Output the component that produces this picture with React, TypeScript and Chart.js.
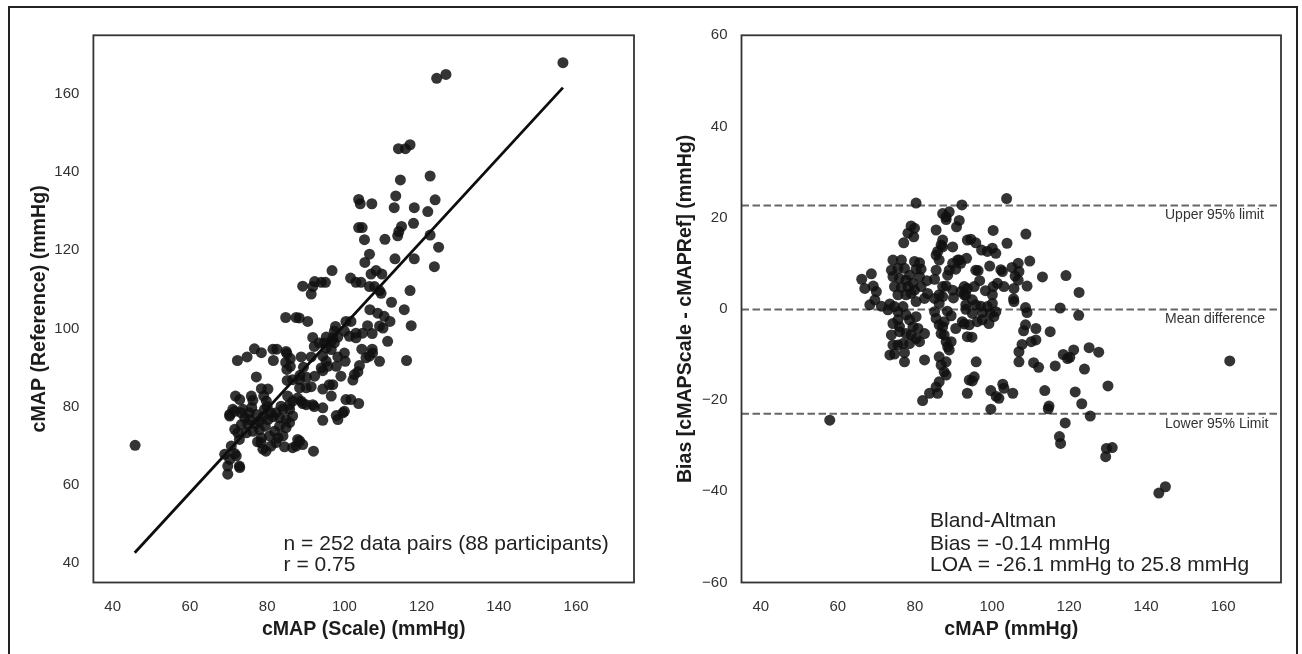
import React, { useEffect, useRef } from 'react';
import { Chart, registerables } from 'chart.js';

Chart.register(...registerables);

// ---------- data: left panel (correlation) ----------
const scaleValues = [
  156.6,123.9,126.3,114.0,115.8,117.0,114.5,122.2,113.3,103.7,
  104.1,107.1,112.9,118.1,123.5,121.6,117.9,103.7,104.6,114.8,
  114.1,113.8,105.2,110.5,124.4,122.2,106.5,105.3,113.1,118.1,
  123.3,96.8,108.2,106.9,109.7,101.6,103.0,104.3,89.2,91.8,
  92.3,94.0,95.1,91.4,106.5,107.8,109.1,109.5,117.0,112.2,
  115.5,106.6,108.6,110.3,111.8,117.3,84.8,87.5,88.3,90.5,
  97.7,100.4,101.7,106.0,107.2,91.8,95.3,97.4,98.3,101.3,
  103.0,104.7,109.1,110.0,76.7,78.5,81.5,82.5,72.3,74.8,
  85.1,86.0,88.8,91.4,94.4,96.6,98.3,100.2,104.5,107.2,
  109.1,111.2,116.1,92.3,99.1,102.6,81.6,84.8,86.0,85.1,
  77.2,85.2,86.6,88.4,90.1,91.4,78.5,80.2,71.8,72.9,
  75.9,76.3,79.1,85.3,88.8,90.1,92.2,71.1,70.3,97.4,
  97.0,100.0,103.0,94.8,96.6,92.2,93.5,95.3,95.3,94.0,
  95.7,94.4,100.0,107.3,106.5,105.6,103.9,103.5,102.2,88.4,
  94.4,96.1,97.0,96.6,94.4,89.2,100.4,101.7,103.7,100.0,
  97.9,98.3,94.4,88.4,89.2,92.0,97.9,87.9,86.6,91.8,
  99.6,84.9,79.8,
  70.3,71.6,73.3,74.2,75.4,77.2,78.0,78.9,80.2,81.5,
  83.2,84.9,85.8,86.6,73.7,75.4,79.3,81.0,84.1,85.8,
  83.2,81.9,80.6,78.4,78.9,79.7,81.0,82.3,84.1,87.5,
  71.6,73.3,74.6,72.8,70.7,69.0,70.3,72.0,72.8,69.8,
  69.8,84.9,85.8,83.6,82.3,72.4,76.3,78.0,78.5,82.8,
  84.5,86.6,87.9,71.6,72.9,77.0,79.5,76.0,80.0,77.5,
  75.0,
  45.8,88.5,90.2,89.4,
];
const referenceValues = [
  168.0,164.0,165.0,146.0,146.0,147.0,138.0,139.0,133.9,133.0,
  131.9,131.9,130.9,130.9,132.9,129.9,126.9,125.8,125.8,126.1,
  124.8,123.7,122.7,122.8,120.8,123.9,119.0,116.9,117.8,117.8,
  115.8,114.8,114.8,113.9,113.9,112.9,111.8,111.8,110.8,110.7,
  112.0,111.8,111.8,108.8,110.7,110.7,109.7,109.0,109.7,106.7,
  104.8,104.8,103.9,103.1,101.8,100.7,102.8,102.8,102.7,101.8,
  100.5,101.8,101.8,100.7,98.7,97.7,97.8,96.3,97.8,98.0,
  98.8,98.8,100.6,100.1,94.8,93.8,94.7,94.7,91.8,92.7,
  93.6,92.3,92.7,92.7,92.9,94.6,92.7,91.6,94.7,94.7,
  91.6,96.7,91.8,87.8,87.8,88.2,91.8,91.3,90.3,89.5,
  87.6,86.7,86.9,84.8,84.8,85.1,84.6,84.5,82.7,81.8,
  82.7,81.6,82.7,82.7,81.4,80.5,80.0,79.3,77.6,99.3,
  97.6,99.3,97.6,96.3,96.7,95.4,96.3,95.0,91.6,89.9,
  90.3,89.2,93.7,93.7,92.9,92.5,90.5,88.9,86.8,86.9,
  84.5,85.6,85.6,82.7,79.7,80.8,81.8,81.8,80.8,78.8,
  77.7,76.7,76.5,71.2,70.3,68.6,90.3,82.2,81.4,80.5,
  78.4,94.1,81.4,
  78.0,78.8,78.4,77.1,76.7,78.0,76.3,77.4,76.7,77.4,
  77.1,76.7,75.9,77.6,79.3,78.4,79.3,78.4,79.3,79.3,
  75.0,73.7,72.5,70.8,69.1,68.6,69.9,70.8,72.5,69.9,
  74.2,75.4,73.3,71.6,69.9,67.8,66.5,67.4,64.8,64.8,
  62.7,74.6,80.5,80.1,78.4,73.3,73.7,74.1,72.0,72.0,
  69.7,69.5,71.6,68.0,64.4,75.5,75.0,79.8,80.0,71.0,
  75.5,
  70.1,88.0,87.5,90.1,
];
const fitLineX = [45.7, 156.6];
const fitLineY = [42.6, 161.6];

// ---------- data: right panel (Bland-Altman) ----------
const baMean = [
  57.9,161.7,143.3,145.0,129.7,131.2,129.5,117.5,117.8,119.0,
  125.5,123.3,121.6,130.1,113.7,114.6,114.8,124.0,121.2,125.2,
  127.7,118.5,119.6,120.2,116.4,122.5,117.7,122.6,119.2,113.1,
  108.8,103.8,80.3,92.2,87.2,88.9,88.1,91.5,90.8,79.0,
  79.9,78.2,79.7,77.1,85.5,87.2,86.8,85.5,85.9,89.8,
  93.6,100.3,94.5,95.8,97.3,98.8,100.1,101.0,103.9,93.4,
  91.5,95.8,99.4,102.7,105.2,106.8,109.8,107.0,106.8,96.8,
  95.4,92.8,91.9,93.2,94.9,93.2,95.8,97.1,98.8,100.1,
  100.1,100.3,101.4,103.1,105.7,109.1,105.7,108.7,109.1,94.9,
  97.5,99.6,101.0,92.3,94.1,96.2,97.5,99.2,100.5,94.8,
  108.7,108.2,111.4,115.1,110.2,111.4,107.8,107.0,107.0,110.8,
  112.1,95.9,95.4,94.9,93.6,99.7,101.1,101.8,103.1,105.4,
  99.7,102.8,74.3,76.5,79.9,81.2,73.9,75.6,77.3,80.3,
  81.6,74.3,78.6,81.2,76.0,77.7,79.5,74.7,76.5,78.2,
  79.9,81.6,75.6,77.7,79.0,66.2,68.7,67.0,69.2,70.0,
  68.3,69.6,71.3,73.5,73.0,74.7,76.9,80.3,82.5,83.3,
  85.1,83.1,85.1,86.3,88.1,89.8,87.2,88.5,90.6,91.9,
  88.9,89.8,91.1,92.8,93.6,75.6,77.7,80.3,75.6,74.3,
  78.6,76.0,79.5,77.7,80.8,82.5,73.9,74.3,75.6,76.9,
  78.6,79.0,81.2,74.7,73.5,77.3,77.3,82.5,85.1,85.5,
  86.3,87.2,86.8,87.6,88.1,88.5,88.9,89.4,86.3,86.8,
  87.6,88.1,86.3,85.5,85.9,83.8,82.0,90.6,92.8,93.6,
  94.1,102.3,106.0,105.6,93.2,90.0,88.4,89.4,98.3,96.4,
  88.1,87.6,86.3,87.2,85.5,86.3,87.2,88.1,80.3,76.0,
];
const baDifference = [
  -24.4,-11.4,-40.4,-39.0,-30.6,-30.4,-32.4,-28.0,-29.5,-25.0,
  -23.5,-20.8,-18.2,-16.9,-17.9,-21.9,-21.3,-13.2,-9.0,-8.5,
  -9.5,-10.0,-10.9,-10.6,-12.5,-1.4,0.2,3.6,7.3,7.0,
  16.4,24.2,23.2,22.8,20.9,21.3,19.6,19.4,18.0,18.2,
  17.7,16.6,15.8,14.5,17.3,15.1,14.0,11.8,12.6,13.6,
  15.1,17.2,15.3,14.5,12.9,12.6,13.3,12.2,14.4,11.1,
  10.7,8.5,9.4,8.2,9.1,10.0,10.5,8.2,6.3,6.2,
  4.9,4.9,3.8,3.1,2.0,0.9,0.9,0.6,0.5,1.2,
  3.1,4.9,5.6,4.9,4.5,5.0,1.6,0.3,-0.8,-1.0,
  -0.8,-1.0,-0.6,-2.8,-3.5,-2.8,-2.4,-3.2,-1.7,-6.2,
  -3.5,-4.8,-4.3,-5.0,-7.2,-6.8,-7.8,-9.4,-11.6,-11.8,
  -12.8,-11.6,-14.9,-15.8,-18.5,-17.9,-19.2,-19.6,-17.4,-18.5,
  -22.0,-16.5,10.7,10.7,10.4,10.1,8.5,8.9,8.9,8.7,
  8.7,7.1,7.4,7.1,6.7,6.3,5.6,4.9,4.7,4.9,
  4.1,4.9,3.1,3.1,3.4,6.5,7.7,4.5,5.0,3.8,
  0.9,2.0,0.6,1.1,-0.2,0.5,0.5,1.6,2.3,3.4,
  2.3,6.2,6.5,3.1,5.0,4.1,4.9,7.4,8.7,10.0,
  8.5,10.0,10.7,3.1,4.5,-0.6,-1.3,-1.7,-2.4,-3.2,
  -2.4,-3.9,-3.9,-5.4,-4.3,-5.4,-5.7,-7.9,-7.9,-7.6,
  -7.6,-5.7,-7.2,-9.9,-10.1,-9.6,-11.6,-11.2,-0.6,-2.1,
  -3.5,-3.9,-5.4,-5.7,-7.2,-8.3,-9.0,-7.2,-10.5,-12.3,
  -13.8,-14.5,-16.0,-17.1,-18.5,-18.5,-20.1,-4.3,-3.3,-6.1,
  -15.6,8.6,7.2,2.2,-0.1,2.4,-0.5,-1.5,4.0,8.4,
  -11.6,-2.8,1.2,2.7,8.5,10.7,13.6,20.2,-6.5,-5.0,
];
const limitValues = [22.7, -0.14, -23.0];
const limitLabels = ['Upper 95% limit', 'Mean difference', 'Lower 95% Limit'];

// ---------- axes / text ----------
const xTicks = [40, 60, 80, 100, 120, 140, 160];
const leftYTicks = [40, 60, 80, 100, 120, 140, 160];
const rightYTicks = [-60, -40, -20, 0, 20, 40, 60];
const leftNotes = ['n = 252 data pairs (88 participants)', 'r = 0.75'];
const rightNotes = ['Bland-Altman', 'Bias = -0.14 mmHg', 'LOA = -26.1 mmHg to 25.8 mmHg'];

const FONT = "'Liberation Sans', Arial, Helvetica, sans-serif";
const DOT = 'rgba(17,17,17,0.85)';

const fmt = (v: number) => (v < 0 ? '\u2212' + Math.abs(v) : String(v));

function boxPlugin() {
  return {
    id: 'plotBox',
    afterDatasetsDraw(chart: any) {
      const { ctx, chartArea } = chart;
      ctx.save();
      ctx.strokeStyle = '#333';
      ctx.lineWidth = 1.8;
      ctx.strokeRect(chartArea.left, chartArea.top, chartArea.right - chartArea.left, chartArea.bottom - chartArea.top);
      ctx.restore();
    },
  };
}

function notesPlugin(lines: string[], dx: number, bottomOffsets: number[], size: number) {
  return {
    id: 'notes',
    afterDraw(chart: any) {
      const { ctx, chartArea } = chart;
      ctx.save();
      ctx.font = `${size}px ${FONT}`;
      ctx.fillStyle = '#222';
      ctx.textAlign = 'left';
      ctx.textBaseline = 'middle';
      lines.forEach((t, i) => ctx.fillText(t, chartArea.left + dx, chartArea.bottom - bottomOffsets[i]));
      ctx.restore();
    },
  };
}

function limitLabelPlugin() {
  return {
    id: 'limitLabels',
    afterDraw(chart: any) {
      const { ctx, chartArea, scales } = chart;
      ctx.save();
      ctx.font = `14px ${FONT}`;
      ctx.fillStyle = '#333';
      ctx.textAlign = 'left';
      ctx.textBaseline = 'middle';
      limitValues.forEach((v, i) => {
        ctx.fillText(limitLabels[i], chartArea.right - 116, scales.y.getPixelForValue(v) + 10);
      });
      ctx.restore();
    },
  };
}

function axis(ticks: number[], min: number, max: number, title: string, isX: boolean, size: number, titlePad: any) {
  return {
    type: 'linear',
    min,
    max,
    grid: { display: false, drawTicks: false },
    border: { display: false },
    ticks: {
      color: '#333',
      font: { family: FONT, size: 15 },
      padding: isX ? 15 : 14,
      callback: (v: any) => fmt(Number(v)),
    },
    afterBuildTicks: (s: any) => {
      s.ticks = ticks.map((v) => ({ value: v }));
    },
    afterFit: (s: any) => {
      if (isX) s.height = 71.5;
      else s.width = size;
    },
    title: {
      display: true,
      text: title,
      color: '#1c1c1c',
      font: { family: FONT, size: 19.6, weight: 'bold' },
      padding: titlePad,
    },
  };
}

export default function App() {
  const leftRef = useRef<HTMLCanvasElement>(null);
  const rightRef = useRef<HTMLCanvasElement>(null);

  useEffect(() => {
    const leftPoints = scaleValues.map((x, i) => ({ x, y: referenceValues[i] }));
    const fitPoints = fitLineX.map((x, i) => ({ x, y: fitLineY[i] }));
    const baPoints = baMean.map((x, i) => ({ x, y: baDifference[i] }));

    const left = new Chart(leftRef.current as HTMLCanvasElement, {
      type: 'scatter',
      data: {
        datasets: [
          {
            type: 'line',
            data: fitPoints,
            borderColor: '#0d0d0d',
            borderWidth: 2.8,
            pointRadius: 0,
            fill: false,
            order: 0,
          } as any,
          {
            data: leftPoints,
            backgroundColor: DOT,
            borderWidth: 0,
            pointRadius: 5.5,
            order: 1,
          },
        ],
      },
      options: {
        responsive: false,
        animation: false,
        devicePixelRatio: 1,
        events: [],
        layout: { padding: { left: 0, right: 17, top: 35.3, bottom: 0 } },
        plugins: { legend: { display: false }, tooltip: { enabled: false } },
        scales: {
          x: axis(xTicks, 35, 175, 'cMAP (Scale) (mmHg)', true, 0, { top: 0, bottom: 13 }),
          y: axis(leftYTicks, 35, 175, 'cMAP (Reference) (mmHg)', false, 93.4, { top: 28.3, bottom: 0 }),
        } as any,
      },
      plugins: [boxPlugin(), notesPlugin(leftNotes, 190.2, [38.6, 17], 21)],
    });

    const right = new Chart(rightRef.current as HTMLCanvasElement, {
      type: 'scatter',
      data: {
        datasets: [
          ...limitValues.map(
            (v) =>
              ({
                type: 'line',
                data: [
                  { x: 35, y: v },
                  { x: 175, y: v },
                ],
                borderColor: '#666',
                borderWidth: 2,
                borderDash: [7.5, 3.5],
                pointRadius: 0,
                fill: false,
                order: 2,
              }) as any,
          ),
          {
            data: baPoints,
            backgroundColor: DOT,
            borderWidth: 0,
            pointRadius: 5.5,
            order: 1,
          },
        ],
      },
      options: {
        responsive: false,
        animation: false,
        devicePixelRatio: 1,
        events: [],
        layout: { padding: { left: 0, right: 21, top: 35.3, bottom: 0 } },
        plugins: { legend: { display: false }, tooltip: { enabled: false } },
        scales: {
          x: axis(xTicks, 35, 175, 'cMAP (mmHg)', true, 0, { top: 0, bottom: 13 }),
          y: axis(rightYTicks, -60, 60, 'Bias [cMAPScale - cMAPRef] (mmHg)', false, 90.5, { top: 23.3, bottom: 0 }),
        } as any,
      },
      plugins: [boxPlugin(), limitLabelPlugin(), notesPlugin(rightNotes, 188.5, [61.5, 38.6, 17], 21)],
    });

    return () => {
      left.destroy();
      right.destroy();
    };
  }, []);

  return (
    <div
      style={{
        position: 'fixed',
        left: 0,
        top: 0,
        width: 1302,
        height: 654,
        overflow: 'hidden',
        background: '#fff',
      }}
    >
      <canvas ref={leftRef} width={651} height={654} style={{ position: 'absolute', left: 0, top: 0, width: 651, height: 654 }} />
      <canvas ref={rightRef} width={651} height={654} style={{ position: 'absolute', left: 651, top: 0, width: 651, height: 654 }} />
      <div
        style={{
          position: 'absolute',
          left: 8,
          top: 6,
          width: 1290,
          height: 700,
          border: '2px solid #222',
          borderBottom: 'none',
          boxSizing: 'border-box',
          pointerEvents: 'none',
        }}
      />
    </div>
  );
}
